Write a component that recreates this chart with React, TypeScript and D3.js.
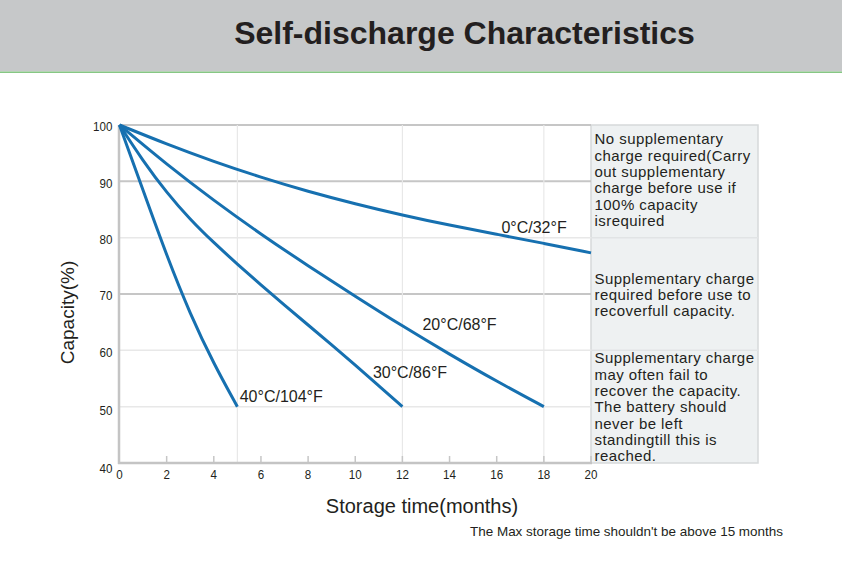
import * as d3 from "d3";

// Self-discharge curves: capacity (%) vs storage time (months)
const months0C = [0, 2, 4, 6, 8, 10, 12, 14, 16, 18, 20];
const capacity0C = [100, 96.6, 93.5, 90.7, 88.2, 86.0, 84.0, 82.2, 80.6, 79.0, 77.3];

const months20C = [0, 2, 4, 6, 8, 10, 12, 14, 16, 18];
const capacity20C = [100, 93.0, 86.6, 80.6, 75.0, 69.6, 64.3, 59.3, 54.5, 50];

const months30C = [0, 1, 2, 3, 4, 5, 6, 7, 8, 9, 10, 11, 12];
const capacity30C = [100, 93.6, 88.0, 83.2, 79.1, 75.3, 71.6, 68.0, 64.5, 61.0, 57.4, 53.7, 50];

const months40C = [0, 1, 2, 3, 4, 5];
const capacity40C = [100, 88.4, 76.8, 66.4, 57.6, 50];

const seriesLabels = ["0°C/32°F", "20°C/68°F", "30°C/86°F", "40°C/104°F"];

const xTicks = [0, 2, 4, 6, 8, 10, 12, 14, 16, 18, 20];
const yTicks = [40, 50, 60, 70, 80, 90, 100];
const darkGridValues = [100, 90, 70];

const noteBands = [
  [100, 80],
  [80, 60],
  [60, 40],
];
const noteLines = [
  ["No supplementary", "charge required(Carry", "out supplementary", "charge before use if", "100% capacity", "isrequired"],
  ["Supplementary charge", "required before use to", "recoverfull capacity."],
  [
    "Supplementary charge",
    "may often fail to",
    "recover the capacity.",
    "The battery should",
    "never be left",
    "standingtill this is",
    "reached.",
  ],
];

const title = "Self-discharge Characteristics";
const xTitle = "Storage time(months)";
const yTitle = "Capacity(%)";
const footnote = "The Max storage time shouldn't be above 15 months";

const W = 842;
const H = 561;
const FONT = "'Liberation Sans', Arial, Helvetica, sans-serif";
const BLUE = "#1670b0";
const TEXT = "#231f20";

const App = () => {
  const x = d3.scaleLinear().domain([0, 20]).range([119.5, 591]);
  const y = d3.scaleLinear().domain([40, 100]).range([463, 125]);

  const series = [
    { months: months0C, capacity: capacity0C },
    { months: months20C, capacity: capacity20C },
    { months: months30C, capacity: capacity30C },
    { months: months40C, capacity: capacity40C },
  ].map((s, i) => ({
    label: seriesLabels[i],
    points: s.months.map((m, j) => [m, s.capacity[j]] as [number, number]),
  }));

  const line = d3
    .line<[number, number]>()
    .x((d) => x(d[0]))
    .y((d) => y(d[1]))
    .curve(d3.curveBasis);

  // label anchors in data space (month, capacity) for each curve
  const labelAt: [number, number][] = [
    [16.2, 80.8],
    [12.85, 63.6],
    [10.75, 55.1],
    [5.1, 50.9],
  ];

  // vertical guides at the end of each curve that stops before 20 months
  const endMonths = series
    .map((s) => s.points[s.points.length - 1][0])
    .filter((m) => m < 20);

  const boxLeft = x(20);
  const boxRight = 758;
  const lineH = 16.3;
  const notePad = [19.3, 46, 13];

  return (
    <svg
      width={W}
      height={H}
      style={{ position: "absolute", left: 0, top: 0, background: "#fff" }}
      fontFamily={FONT}
    >
      {/* header */}
      <rect x={0} y={0} width={W} height={71.5} fill="#c6c8c9" />
      <rect x={0} y={71.5} width={W} height={1.5} fill="#86c784" />
      <text
        x={464.5}
        y={43.5}
        textAnchor="middle"
        fontSize={32}
        fontWeight="bold"
        fill={TEXT}
      >
        {title}
      </text>

      {/* notes panel */}
      <rect
        x={boxLeft}
        y={y(100)}
        width={boxRight - boxLeft}
        height={y(40) - y(100)}
        fill="#eef1f2"
        stroke="#d6d9da"
        strokeWidth={1.5}
      />
      {noteBands.slice(1).map((b, i) => (
        <line
          key={"div" + i}
          x1={boxLeft}
          x2={boxRight}
          y1={y(b[0])}
          y2={y(b[0])}
          stroke="#e1e4e5"
          strokeWidth={1.5}
        />
      ))}
      {noteLines.map((lines, i) => (
        <text
          key={"note" + i}
          fontSize={15}
          letterSpacing={0.45}
          fill={TEXT}
        >
          {lines.map((t, j) => (
            <tspan key={j} x={boxLeft + 3.5} y={y(noteBands[i][0]) + notePad[i] + j * lineH}>
              {t}
            </tspan>
          ))}
        </text>
      ))}

      {/* horizontal grid */}
      {yTicks
        .filter((v) => v > 40)
        .map((v) => (
          <line
            key={"gy" + v}
            x1={x(0)}
            x2={x(20)}
            y1={y(v)}
            y2={y(v)}
            stroke={darkGridValues.includes(v) ? "#c6c6c6" : "#e8e8e8"}
            strokeWidth={darkGridValues.includes(v) ? 2 : 1.5}
          />
        ))}

      {/* vertical guides */}
      {endMonths.map((m) => (
        <line
          key={"gx" + m}
          x1={x(m)}
          x2={x(m)}
          y1={y(100)}
          y2={y(40)}
          stroke="#e8e8e8"
          strokeWidth={1.2}
        />
      ))}

      {/* x tick marks */}
      {xTicks
        .filter((v) => v > 0)
        .map((v) => (
          <line
            key={"tx" + v}
            x1={x(v)}
            x2={x(v)}
            y1={y(40)}
            y2={y(40) - 7}
            stroke="#c6c6c6"
            strokeWidth={1.5}
          />
        ))}

      {/* axes */}
      <line x1={x(0) - 0.5} x2={x(0) - 0.5} y1={y(100)} y2={y(40) + 1} stroke="#c4c4c4" strokeWidth={2.5} />
      <line x1={x(0) - 1.5} x2={x(20) + 1} y1={y(40)} y2={y(40)} stroke="#c4c4c4" strokeWidth={2.5} />

      {/* tick labels */}
      {yTicks.map((v) => (
        <text
          key={"ly" + v}
          x={112.5}
          y={y(v) + (v === 40 ? 10 : v === 50 ? 8 : 6.5)}
          textAnchor="end"
          fontSize={13.5}
          fill={TEXT}
          transform={`translate(112.5,0) scale(0.86,1) translate(-112.5,0)`}
        >
          {v}
        </text>
      ))}
      {xTicks.map((v) => (
        <text
          key={"lx" + v}
          x={x(v)}
          y={479.5}
          textAnchor="middle"
          fontSize={13.5}
          fill={TEXT}
          transform={`translate(${x(v)},0) scale(0.86,1) translate(${-x(v)},0)`}
        >
          {v}
        </text>
      ))}

      {/* curves */}
      {series.map((s) => (
        <path
          key={s.label}
          d={line(s.points) || ""}
          fill="none"
          stroke={BLUE}
          strokeWidth={3}
          strokeLinejoin="round"
        />
      ))}
      {series.map((s, i) => (
        <text
          key={"lab" + s.label}
          x={x(labelAt[i][0])}
          y={y(labelAt[i][1])}
          fontSize={16}
          fill={TEXT}
        >
          {s.label}
        </text>
      ))}

      {/* axis titles */}
      <text
        transform="translate(74,312.5) rotate(-90)"
        textAnchor="middle"
        fontSize={19}
        fill={TEXT}
      >
        {yTitle}
      </text>
      <text x={422} y={513} textAnchor="middle" fontSize={20} fill={TEXT}>
        {xTitle}
      </text>
      <text x={626.5} y={535.5} textAnchor="middle" fontSize={13} fill={TEXT} textLength={313} lengthAdjust="spacingAndGlyphs">
        {footnote}
      </text>
    </svg>
  );
};

export default App;
